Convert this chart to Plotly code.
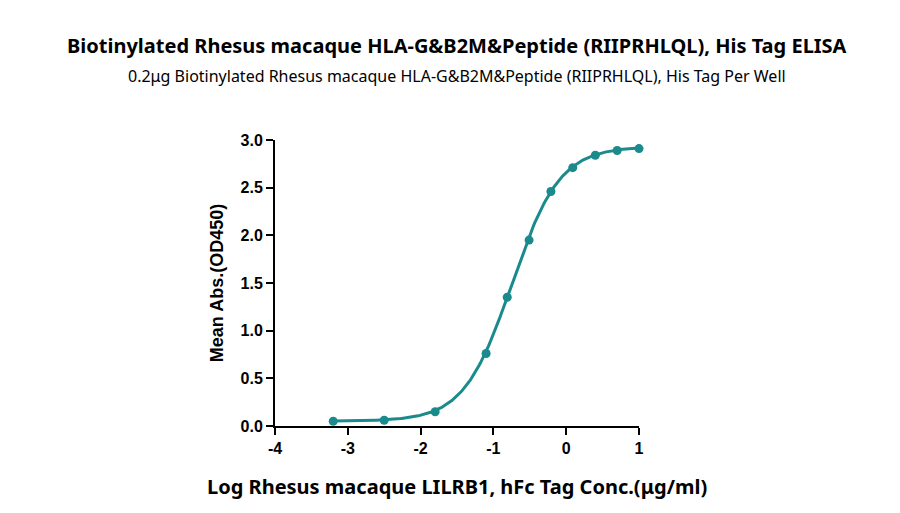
import numpy as np
import plotly.graph_objects as go

# measured points
log_conc = [-3.2, -2.5, -1.8, -1.1, -0.81, -0.51, -0.21, 0.09, 0.40, 0.70, 1.0]
od450 = [0.05, 0.06, 0.15, 0.76, 1.35, 1.95, 2.46, 2.71, 2.84, 2.89, 2.91]
x_ticks = [-4, -3, -2, -1, 0, 1]
y_ticks = [0, 0.5, 1, 1.5, 2, 2.5, 3]

# 4PL fit parameters (estimated)
bottom, top, ec50, hill = 0.05, 2.93, -0.747, 1.32
xf = np.linspace(-3.2, 1.0, 300)
yf = bottom + (top - bottom) / (1 + 10 ** ((ec50 - xf) * hill))

teal = "#1a8a8c"
fig = go.Figure()
fig.add_trace(go.Scatter(x=xf, y=yf, mode="lines", line=dict(color=teal, width=3),
                         showlegend=False, hoverinfo="skip", cliponaxis=False))
fig.add_trace(go.Scatter(x=log_conc, y=od450, mode="markers",
                         marker=dict(color=teal, size=9), showlegend=False, cliponaxis=False))

axis = dict(showline=True, linecolor="black", linewidth=2, ticks="outside",
            tickwidth=2, ticklen=7, tickcolor="black", showgrid=False, zeroline=False,
            automargin=False,
            tickfont=dict(family="Arial, Liberation Sans", size=16, color="black"))
fig.update_xaxes(range=[-4, 1], tickvals=x_ticks,
                 ticktext=["<b>%d</b>" % v for v in x_ticks], **axis)
fig.update_yaxes(range=[0, 3], tickvals=y_ticks,
                 ticktext=["<b>%.1f</b>" % v for v in y_ticks],
                 title=dict(text="<b>Mean Abs.(OD450)</b>", standoff=12,
                            font=dict(family="Arial, Liberation Sans", size=18, color="black")),
                 **axis)
fig.update_layout(
    width=900, height=513, plot_bgcolor="white", paper_bgcolor="white",
    margin=dict(l=267, r=269, t=132, b=95),
    annotations=[
        dict(text="<b>Biotinylated Rhesus macaque HLA-G&B2M&Peptide (RIIPRHLQL), His Tag ELISA</b>",
             xref="paper", yref="paper", x=0.5, y=0, xanchor="center", yanchor="middle",
             showarrow=False, font=dict(family="Noto Sans", size=20, color="black")),
        dict(text="0.2μg Biotinylated Rhesus macaque HLA-G&B2M&Peptide (RIIPRHLQL), His Tag Per Well",
             xref="paper", yref="paper", x=0.5, y=0, xanchor="center", yanchor="middle",
             showarrow=False, font=dict(family="Noto Sans", size=16, color="black")),
        dict(text="<b>Log Rhesus macaque LILRB1, hFc Tag Conc.(μg/ml)</b>",
             xref="paper", yref="paper", x=0.5, y=0, xanchor="center", yanchor="middle",
             showarrow=False, font=dict(family="Noto Sans", size=20, color="black")),
    ],
)
# place annotations in pixel terms relative to plot area
ph = 513 - 132 - 95
for ann, ypx in zip(fig.layout.annotations, [37, 68, 478]):
    ann.y = (513 - 95 - ypx) / ph
fig.write_html("out.html")
